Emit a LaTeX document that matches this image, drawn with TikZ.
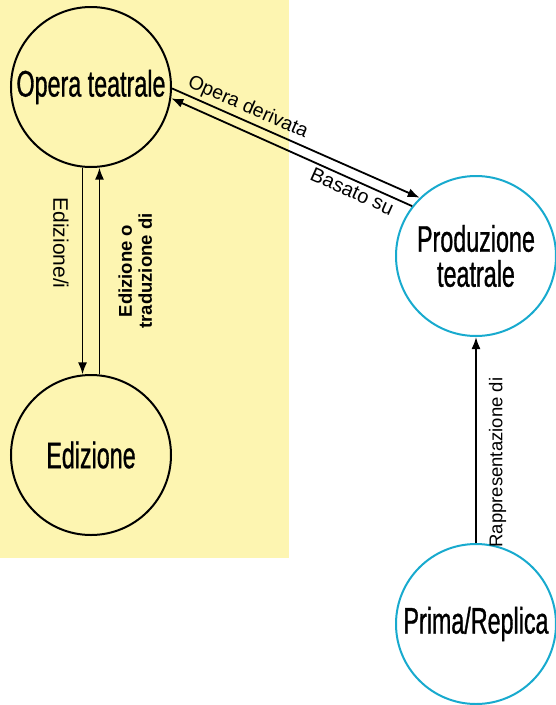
\documentclass[tikz,border=0pt]{standalone}
\usepackage{fontspec}
\setmainfont{Liberation Sans}
\newfontfamily\condfont[FakeStretch=0.63,FakeBold=0.8]{Liberation Sans}
\usetikzlibrary{arrows.meta}

\definecolor{areagialla}{RGB}{253,245,177}
\definecolor{azzurro}{RGB}{24,170,206}

\tikzset{
  entita/.style={circle, draw, line width=2pt, minimum size=160pt, inner sep=0pt,
    align=center, font=\condfont\fontsize{37}{35}\selectfont},
  etichetta/.style={font=\fontsize{20}{21}\selectfont, inner sep=2pt},
}

\begin{document}
\begin{tikzpicture}[x=1pt,y=-1pt,>={Latex[length=12pt,width=9pt]},line width=1.8pt]
  % Background area
  \useasboundingbox (0,0) rectangle (555,705);
  \fill[areagialla] (0,0) rectangle (289,558);

  % Entities
  \node[entita] (opera) at (91,87) {Opera teatrale};
  \node[entita] (edizione) at (91,455) {Edizione};
  \node[entita, draw=azzurro] (produzione) at (476,256) {Produzione\\teatrale};
  \node[entita, draw=azzurro] (prima) at (476,624) {Prima/Replica};

  % Opera <-> Edizione
  \draw[->] (opera.264) -- node[etichetta, pos=0.365, sloped, below=11pt,
    font=\fontsize{21}{22}\selectfont] {Edizione/i} (edizione.96);
  \draw[->] (edizione.84) -- node[etichetta, pos=0.5, sloped, below=16pt, align=center,
    font=\fontsize{18.5}{20}\selectfont\bfseries] {Edizione o\\traduzione di} (opera.276);

  % Opera <-> Produzione
  \draw[->] (opera.-1) -- node[etichetta, pos=0.285, sloped, above=1pt,
    font=\fontsize{19.5}{21}\selectfont] {Opera derivata} (produzione.134);
  \draw[<-] (opera.-8) -- node[etichetta, pos=0.77, sloped, below=1pt] {Basato su} (produzione.142);

  % Prima -> Produzione
  \draw[->] (prima.north) -- node[etichetta, pos=0.39, sloped, below=10pt,
    font=\fontsize{18.5}{20}\selectfont] {Rappresentazione di} (produzione.south);
\end{tikzpicture}
\end{document}
